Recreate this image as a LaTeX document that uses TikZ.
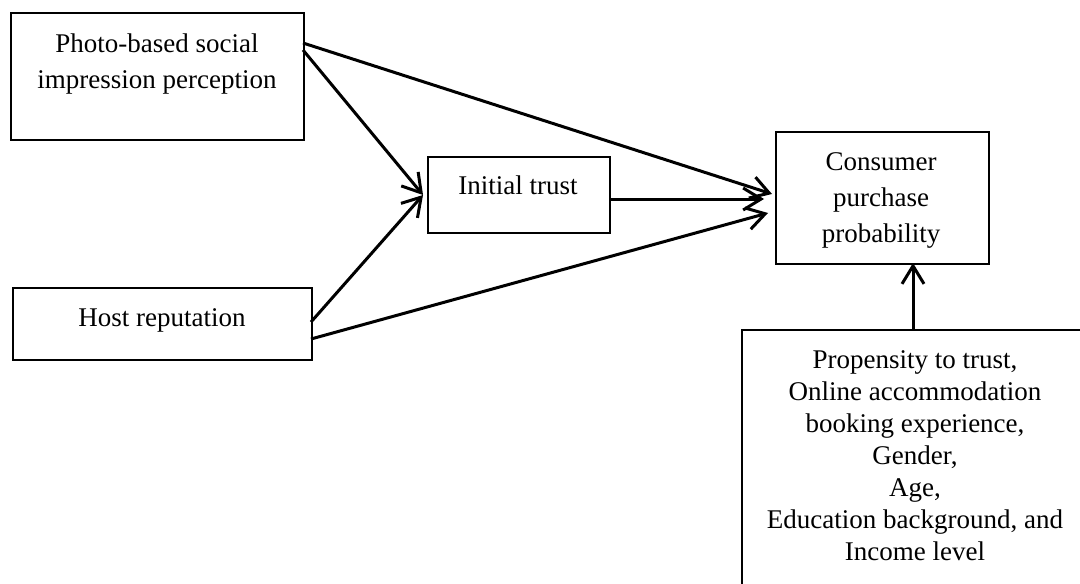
\documentclass[tikz,border=0pt]{standalone}
\usepackage{fontspec}
\setmainfont{Liberation Serif}
\usetikzlibrary{arrows.meta}
\tikzset{
  box/.style={draw, line width=1.1pt, anchor=north west, inner sep=0pt},
  lbl/.style={anchor=north, inner sep=0pt, align=center, font=\fontsize{13.5}{18}\selectfont},
  conn/.style={line width=1.5pt, -{Straight Barb[length=9pt, width=11pt, line width=1.5pt]}}
}
\begin{document}
\begin{tikzpicture}[x=0.5pt, y=-0.5pt]
\clip (0,0) rectangle (1080,583);
% boxes
\node[box, minimum width=146.5pt, minimum height=63.5pt] (photo) at (10,12) {};
\node[box, minimum width=149.5pt, minimum height=36pt] (host) at (12,287) {};
\node[box, minimum width=91pt, minimum height=38pt] (init) at (427,156) {};
\node[box, minimum width=106.5pt, minimum height=66pt] (cons) at (775,131) {};
\node[box, minimum width=174pt, minimum height=140pt] (ctrl) at (741,329) {};
% labels
\node[lbl] (photoT) at (157,33) {Photo-based social\\impression perception};
\node[lbl] (hostT) at (162,308) {Host reputation};
\node[lbl] (initT) at (518,175) {Initial trust};
\node[lbl] (consT) at (881,152) {Consumer\\purchase\\probability};
\node[lbl, font=\fontsize{13.5}{16}\selectfont] (ctrlT) at (915,350) {Propensity to trust,\\Online accommodation\\booking experience,\\Gender,\\Age,\\Education background, and\\Income level};
% connector end points
\coordinate (p1) at (303,43);
\coordinate (p2) at (303,50);
\coordinate (h1) at (311,322);
\coordinate (h2) at (311,339);
\coordinate (iin) at (423,195);
\coordinate (iout) at (609,199);
\coordinate (c1) at (772,194);
\coordinate (c2) at (764,199);
\coordinate (c3) at (768,213);
\coordinate (k1) at (913,329);
\coordinate (k2) at (913,263);
% connectors
\draw[conn] (p1) -- (c1);
\draw[conn] (p2) -- (iin);
\draw[conn] (h1) -- (iin);
\draw[conn] (h2) -- (c3);
\draw[conn] (iout) -- (c2);
\draw[conn] (k1) -- (k2);
\end{tikzpicture}
\end{document}
